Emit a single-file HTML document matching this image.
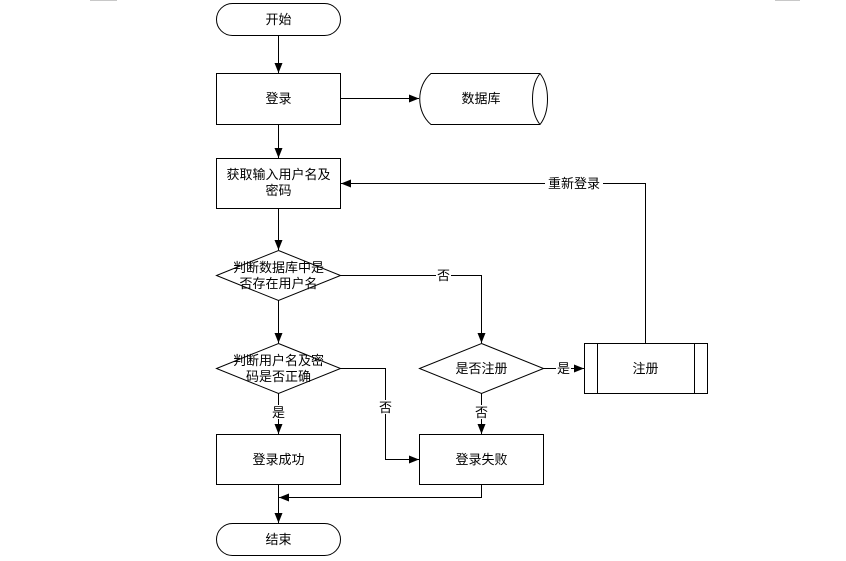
<!DOCTYPE html>
<html><head><meta charset="utf-8"><style>body{margin:0;background:#fff}svg{display:block}text{font-family:"Liberation Sans","Noto Sans CJK SC",sans-serif;font-size:13px;fill:#000}</style></head><body>
<svg width="846" height="561" viewBox="0 0 846 561" xmlns="http://www.w3.org/2000/svg">
<defs><marker id="a" markerWidth="10" markerHeight="8" refX="10" refY="4" orient="auto" markerUnits="userSpaceOnUse"><path d="M0,0L10,4L0,8z" fill="#000"/></marker></defs>
<g stroke="#c8c8c8"><line x1="90" y1="0.5" x2="117" y2="0.5"/><line x1="775" y1="0.5" x2="800" y2="0.5"/></g>
<g fill="#fff" stroke="#000" stroke-width="1">
<rect x="216.5" y="3.5" width="124" height="32" rx="16"/>
<rect x="216.5" y="73.5" width="124" height="51"/>
<path d="M431,73.5H540C550,86 550,112 540,124.5H431C416,112 416,86 431,73.5Z"/>
<path d="M540,73.5C530,86 530,112 540,124.5" fill="none"/>
<rect x="216.5" y="158.5" width="124" height="50"/>
<path d="M278.5,250.5L340.5,275.5L278.5,300.5L216.5,275.5Z"/>
<path d="M278.5,343.5L340.5,368.5L278.5,393.5L216.5,368.5Z"/>
<path d="M481.5,343.5L543.5,368.5L481.5,393.5L419.5,368.5Z"/>
<rect x="216.5" y="434.5" width="124" height="50"/>
<rect x="419.5" y="434.5" width="124" height="50"/>
<rect x="584.5" y="343.5" width="123" height="50"/>
<line x1="597.5" y1="343.5" x2="597.5" y2="393.5"/><line x1="694.5" y1="343.5" x2="694.5" y2="393.5"/>
<rect x="216.5" y="523.5" width="124" height="32" rx="16"/>
</g>
<g stroke="#000" fill="none" marker-end="url(#a)">
<path d="M278.5,35.5V73"/>
<path d="M340.5,98.5H419"/>
<path d="M278.5,124.5V158"/>
<path d="M278.5,208.5V250"/>
<path d="M278.5,300.5V343"/>
<path d="M278.5,393.5V434"/>
<path d="M278.5,484.5V523"/>
<path d="M340.5,275.5H481.5V343"/>
<path d="M340.5,368.5H385.5V459.5H419"/>
<path d="M543.5,368.5H584"/>
<path d="M481.5,393.5V434"/>
<path d="M481.5,484.5V497.5H279"/>
<path d="M645.5,343.5V183.5H341"/>
</g>
<g fill="#fff"><rect x="436" y="268" width="15" height="14"/><rect x="378" y="400" width="15" height="14"/><rect x="556" y="361" width="15" height="14"/><rect x="474" y="405" width="15" height="14"/><rect x="271" y="405" width="15" height="14"/><rect x="545" y="176" width="58" height="14"/></g>
<g text-anchor="middle">
<text x="278.5" y="24">开始</text>
<text x="278.5" y="103">登录</text>
<text x="481" y="103">数据库</text>
<text x="278.5" y="179">获取输入用户名及</text>
<text x="278.5" y="195">密码</text>
<text x="278.5" y="272">判断数据库中是</text>
<text x="278.5" y="288">否存在用户名</text>
<text x="278.5" y="365">判断用户名及密</text>
<text x="278.5" y="381">码是否正确</text>
<text x="481.5" y="373">是否注册</text>
<text x="645.5" y="373">注册</text>
<text x="278.5" y="464">登录成功</text>
<text x="481.5" y="464">登录失败</text>
<text x="278.5" y="544">结束</text>
<text x="443.5" y="280">否</text>
<text x="385.5" y="412">否</text>
<text x="563.5" y="373">是</text>
<text x="481.5" y="417">否</text>
<text x="278.5" y="417">是</text>
<text x="574" y="188">重新登录</text>
</g>
</svg>
</body></html>
